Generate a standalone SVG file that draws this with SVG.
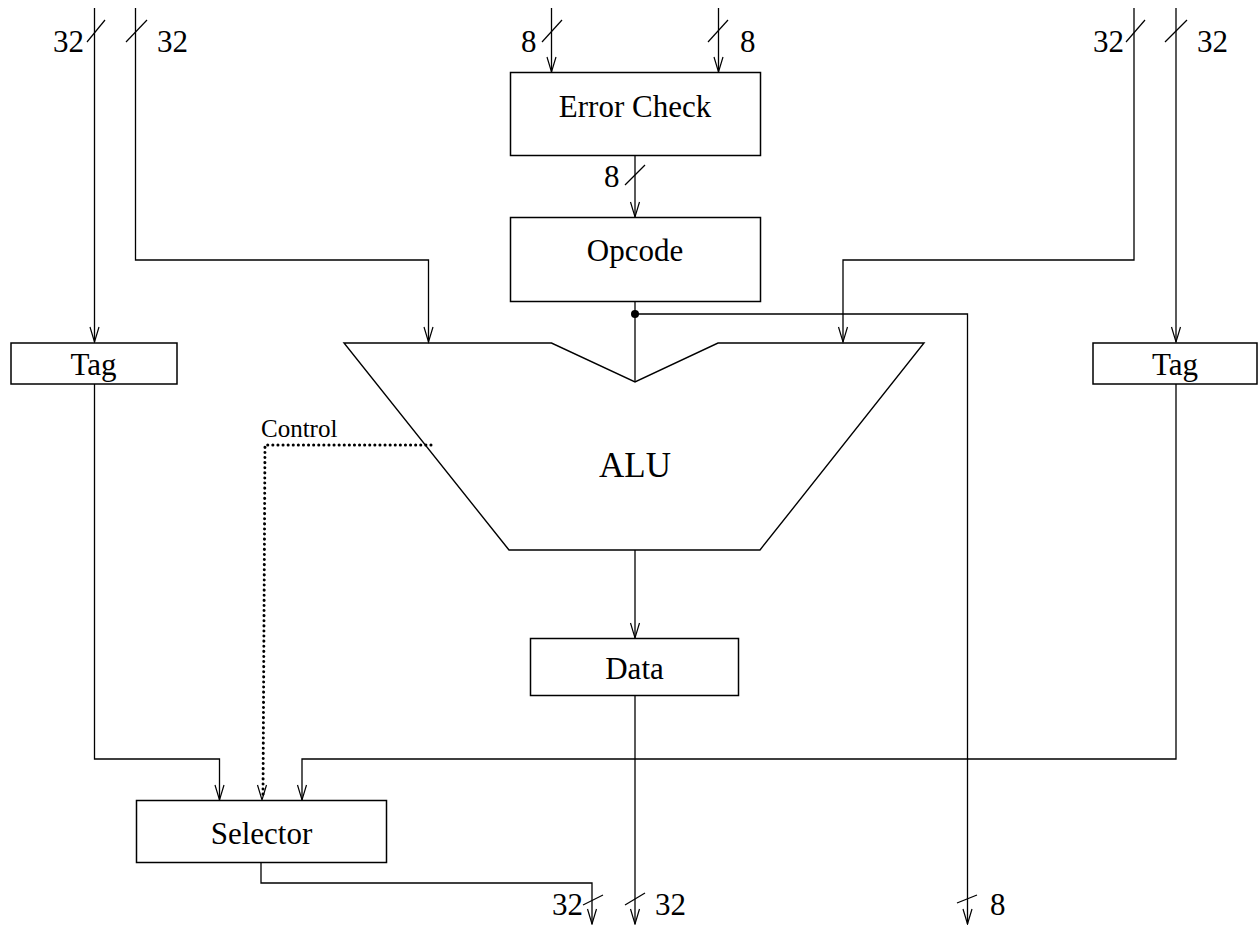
<svg xmlns="http://www.w3.org/2000/svg" width="1260" height="925" viewBox="0 0 1260 925">
<style>
.box{fill:#fff;stroke:#000;stroke-width:1.5}
.ln{fill:none;stroke:#000;stroke-width:1.3}
.dot{fill:none;stroke:#000;stroke-width:3;stroke-dasharray:0.1 5;stroke-linecap:round}
.sl{stroke:#000;stroke-width:1.2}
.t{font-family:"Liberation Serif","Times New Roman",serif;font-size:31px;fill:#000}
.m{text-anchor:middle}
.e{text-anchor:end}
</style>
<defs>
<marker id="arr" markerUnits="userSpaceOnUse" markerWidth="20" markerHeight="20" refX="0" refY="0" orient="auto" overflow="visible">
<path d="M-15,-4.5 L0,0 L-15,4.5" fill="none" stroke="#000" stroke-width="1.2"/>
</marker>
</defs>
<rect width="1260" height="925" fill="#fff"/>
<g id="connectors">
<path class="ln" d="M94.5 8 V342" marker-end="url(#arr)"/>
<path class="ln" d="M135.5 8 V260 H428.5 V342" marker-end="url(#arr)"/>
<path class="ln" d="M551.5 8 V72" marker-end="url(#arr)"/>
<path class="ln" d="M718.5 8 V72" marker-end="url(#arr)"/>
<path class="ln" d="M635 155 V217" marker-end="url(#arr)"/>
<path class="ln" d="M635 301 V382"/>
<path class="ln" d="M635 314 H967.5 V924" marker-end="url(#arr)"/>
<circle cx="635" cy="314" r="4" fill="#000"/>
<path class="ln" d="M1134 8 V260 H843 V342" marker-end="url(#arr)"/>
<path class="ln" d="M1176 8 V342" marker-end="url(#arr)"/>
<path class="ln" d="M94.5 384 V759 H219.5 V800" marker-end="url(#arr)"/>
<path class="ln" d="M1176 384 V759 H302 V800" marker-end="url(#arr)"/>
<path class="dot" d="M431 445 H265 L263 797"/>
<path class="ln" d="M262 785 L262 800" marker-end="url(#arr)" stroke-opacity="0"/>
<path class="ln" d="M635 550 V638" marker-end="url(#arr)"/>
<path class="ln" d="M635 695 V924" marker-end="url(#arr)"/>
<path class="ln" d="M261 862 V883 H592 V924" marker-end="url(#arr)"/>
<!-- bus width slashes -->
<line class="sl" x1="87" y1="42" x2="105" y2="20"/>
<line class="sl" x1="126" y1="42" x2="147" y2="20"/>
<line class="sl" x1="542" y1="42" x2="562" y2="20"/>
<line class="sl" x1="708" y1="42" x2="728" y2="20"/>
<line class="sl" x1="625" y1="185" x2="645" y2="165"/>
<line class="sl" x1="1126" y1="42" x2="1145" y2="20"/>
<line class="sl" x1="1165" y1="42" x2="1187" y2="20"/>
<line class="sl" x1="583" y1="905" x2="603" y2="895"/>
<line class="sl" x1="625" y1="905" x2="645" y2="893"/>
<line class="sl" x1="957" y1="903" x2="977" y2="895"/>
<text class="t" x="53" y="52">32</text>
<text class="t" x="157" y="52">32</text>
<text class="t" x="521" y="52">8</text>
<text class="t" x="740" y="52">8</text>
<text class="t" x="604" y="187">8</text>
<text class="t" x="1093" y="52">32</text>
<text class="t" x="1197" y="52">32</text>
<text class="t" x="552" y="915">32</text>
<text class="t" x="655" y="915">32</text>
<text class="t" x="990" y="915">8</text>
<text class="t" x="261" y="437" style="font-size:25px">Control</text>
</g>
<g id="error-check">
<rect class="box" x="510.5" y="72.5" width="250" height="83"/>
<text class="t m" x="635" y="117">Error Check</text>
</g>
<g id="opcode">
<rect class="box" x="510.5" y="217.5" width="250" height="84"/>
<text class="t m" x="635" y="261">Opcode</text>
</g>
<g id="alu">
<path d="M344 343 H551.5 L635 382 L718 343 H924 L760 550 H509 Z" fill="none" stroke="#000" stroke-width="1.4" stroke-linejoin="miter"/>
<text class="t m" x="635" y="477" style="font-size:35px">ALU</text>
</g>
<g id="tag-left">
<rect class="box" x="11" y="343" width="166" height="41"/>
<text class="t m" x="93.5" y="375">Tag</text>
</g>
<g id="tag-right">
<rect class="box" x="1093" y="343" width="164" height="41"/>
<text class="t m" x="1175" y="375">Tag</text>
</g>
<g id="data">
<rect class="box" x="530.5" y="638.5" width="208" height="57"/>
<text class="t m" x="634.5" y="679">Data</text>
</g>
<g id="selector">
<rect class="box" x="136.5" y="800.5" width="250" height="62"/>
<text class="t m" x="261.5" y="844">Selector</text>
</g>
</svg>
